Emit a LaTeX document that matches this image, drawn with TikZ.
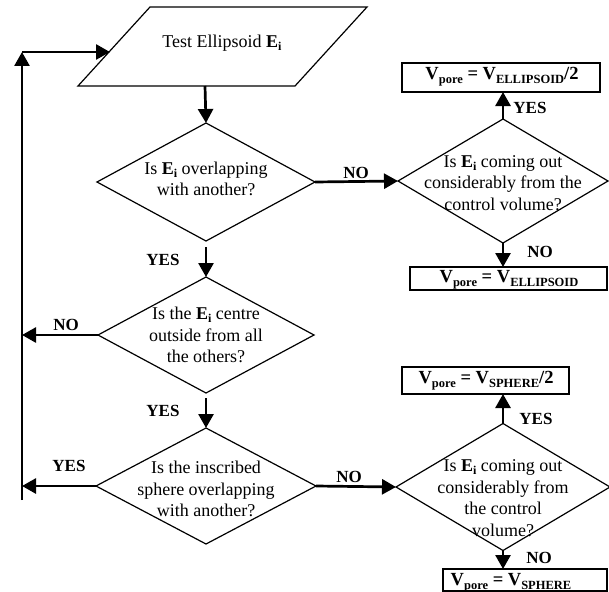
\documentclass[tikz,border=0pt]{standalone}
\usepackage{fontspec}
\setmainfont{Liberation Serif}
\usetikzlibrary{shapes.geometric,arrows.meta}
\newcommand{\lsub}[1]{\raisebox{-4pt}{\fontsize{12.5}{12.5}\selectfont\bfseries #1}}
\newcommand{\Ei}{\textbf{E\raisebox{-3pt}{\fontsize{12}{12}\selectfont i}}}
\begin{document}
\begin{tikzpicture}[x=1pt,y=-1pt,
  dia/.style={diamond, draw, line width=1.2pt, inner sep=0pt, outer sep=0pt},
  txt/.style={align=center, font=\fontsize{18}{21.5}\selectfont, inner sep=0pt},
  lbl/.style={font=\fontsize{17}{17}\selectfont\bfseries, inner sep=0pt},
  res/.style={draw, rectangle, line width=1.6pt, inner sep=0pt, outer sep=0pt},
  vtxt/.style={font=\fontsize{18.5}{18.5}\selectfont\bfseries, inner sep=0pt},
  arr/.style={line width=2.7pt, -{Triangle[length=14pt,width=15pt]}}]
\useasboundingbox (0,0) rectangle (609,591);
% input parallelogram
\draw[line width=1.2pt] (150,7) -- (367,7) -- (295,86) -- (78,86) -- cycle;
\node[txt] (t0) at (222,43) {Test Ellipsoid \Ei};
\coordinate (pb) at (205,86);
\coordinate (pl) at (110,52);
% diamonds
\node[dia, minimum width=218pt, minimum height=118pt] (d1) at (206,182) {};
\node[dia, minimum width=216pt, minimum height=116pt] (d2) at (206,335) {};
\node[dia, minimum width=220pt, minimum height=116pt] (d3) at (206,486) {};
\node[dia, minimum width=210pt, minimum height=124pt] (d4) at (503,181) {};
\node[dia, minimum width=214pt, minimum height=127pt] (d5) at (503,487) {};
\node[txt] (t1) at (206,179) {Is \Ei{} overlapping\\with another?};
\node[txt] (t2) at (206,335) {Is the \Ei{} centre\\outside from all\\the others?};
\node[txt] (t3) at (206,489) {Is the inscribed\\sphere overlapping\\with another?};
\node[txt] (t4) at (503,183) {Is \Ei{} coming out\\considerably from the\\control volume?};
\node[txt] (t5) at (503,498) {Is \Ei{} coming out\\considerably from\\the control\\volume?};
% result boxes
\node[res, minimum width=198pt, minimum height=29pt] (b1) at (501,77.5) {};
\node[res, minimum width=197pt, minimum height=23pt] (b2) at (508.5,278.5) {};
\node[res, minimum width=167pt, minimum height=27pt] (b3) at (485.5,380.5) {};
\node[res, minimum width=164pt, minimum height=22pt] (b4) at (525,580) {};
\node[vtxt] (v1) at (502,77) {V\lsub{pore} = V\lsub{ELLIPSOID}/2};
\node[vtxt] (v2) at (509,280) {V\lsub{pore} = V\lsub{ELLIPSOID}};
\node[vtxt] (v3) at (486,381) {V\lsub{pore} = V\lsub{SPHERE}/2};
\node[vtxt] (v4) at (511,583) {V\lsub{pore} = V\lsub{SPHERE}};
% loop line
\coordinate (lb) at (22,500);
\coordinate (lt) at (22,52);
\draw[arr] (lb) -- (lt);
\draw[arr] (lt) -- (pl);
% connectors
\draw[arr] (pb) -- (d1.north);
\draw[arr] ([yshift=-6pt]d1.south) -- (d2.north);
\draw[arr] ([yshift=-5pt]d2.south) -- (d3.north);
\draw[arr] (d2.west) -- (d2.west -| lb);
\draw[arr] (d3.west) -- (d3.west -| lb);
\draw[arr] (d1.east) -- (d4.west);
\draw[arr] (d3.east) -- (d5.west);
\draw[arr] (d4.north) -- (d4.north |- b1.south);
\draw[arr] (d4.south) -- (d4.south |- b2.north);
\draw[arr] (d5.north) -- (d5.north |- b3.south);
\draw[arr] (d5.south) -- (d5.south |- b4.north);
% labels
\node[lbl] (n1) at (356,173) {NO};
\node[lbl] (y1) at (163,260) {YES};
\node[lbl] (n2) at (66,325) {NO};
\node[lbl] (y2) at (163,411) {YES};
\node[lbl] (y3) at (69,466) {YES};
\node[lbl] (n3) at (349,477) {NO};
\node[lbl] (y4) at (530,108) {YES};
\node[lbl] (n4) at (540,252) {NO};
\node[lbl] (y5) at (536,419) {YES};
\node[lbl] (n5) at (539,558) {NO};
\end{tikzpicture}
\end{document}
